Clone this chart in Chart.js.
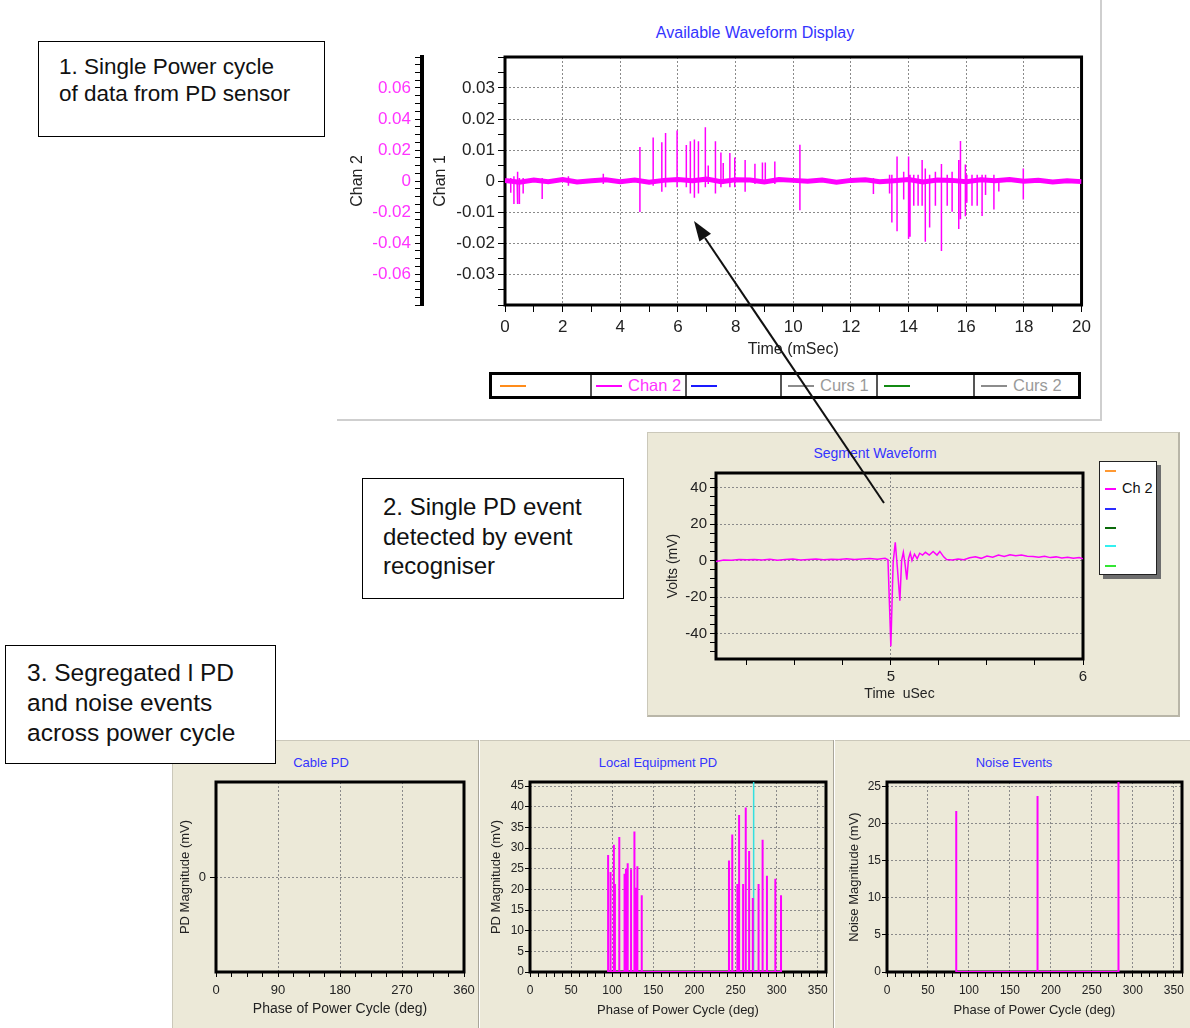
<!DOCTYPE html>
<html>
<head>
<meta charset="utf-8">
<script src="https://cdn.jsdelivr.net/npm/chart.js"></script>
<style>
  body { margin: 0; background: #fff; font-family: "Liberation Sans", Arial, sans-serif; }
  #page { position: relative; width: 1190px; height: 1028px; overflow: hidden; }
  .abs { position: absolute; }
  .ttl { position: absolute; color: #3434ff; white-space: nowrap; transform: translateX(-50%); }
  .panel { position: absolute; background: #ece9d8; box-sizing: border-box; }
  .note { position: absolute; background: #fff; border: 1px solid #000; color: #111; box-sizing: border-box; white-space: nowrap; }
  #cycleLegend { left: 489px; top: 372px; width: 592px; height: 27px; border: 3px solid #000; box-sizing: border-box; display: flex; background: #fff; }
  #cycleLegend .cell { height: 100%; display: flex; align-items: center; box-sizing: border-box; border-left: 2px solid #555; font-size: 16.5px; white-space: nowrap; overflow: hidden; }
  #cycleLegend .cell:first-child { border-left: none; }
  #cycleLegend .sw { display: inline-block; flex: none; width: 26px; height: 2px; margin: 0 6px 0 6px; }
  #segLegend { left: 1099px; top: 461px; width: 58px; height: 114px; background: #fff; border: 1px solid #222; box-sizing: border-box; box-shadow: 4px 4px 0 #6e6e6e; }
  #segLegend .sw { position: absolute; left: 5px; width: 11px; height: 2px; }
</style>
</head>
<body>
<div id="page">
  <!-- 1. power cycle panel -->
  <div class="abs" style="left:337px;top:-2px;width:763px;height:421px;border-right:2px solid #cfcfcf;border-bottom:2px solid #cfcfcf;"></div>
  <div class="ttl" style="left:755px;top:24px;font-size:16px;line-height:18px;">Available Waveform Display</div>
  <canvas id="cycleChart" class="abs" width="756" height="323" style="left:340px;top:42px;"></canvas>
  <div id="cycleLegend" class="abs">
    <div class="cell" style="width:98px"><span class="sw" style="background:#ff8c1a;margin-left:8px"></span></div>
    <div class="cell" style="width:95px"><span class="sw" style="background:#ff00ff;margin-left:4px"></span><span style="color:#ff33ff">Chan 2</span></div>
    <div class="cell" style="width:95px"><span class="sw" style="background:#1a1aff;margin-left:4px"></span></div>
    <div class="cell" style="width:96px"><span class="sw" style="background:#8c8c8c"></span><span style="color:#9a9a9a">Curs 1</span></div>
    <div class="cell" style="width:97px"><span class="sw" style="background:#138a13"></span></div>
    <div class="cell" style="width:105px"><span class="sw" style="background:#8c8c8c"></span><span style="color:#9a9a9a">Curs 2</span></div>
  </div>

  <!-- 2. segment panel -->
  <div class="panel" style="left:647px;top:432px;width:533px;height:285px;border:1px solid #cbc8ba;border-right:2px solid #b9b6a8;border-bottom:2px solid #b9b6a8;"></div>
  <div class="ttl" style="left:875px;top:445px;font-size:14px;line-height:16px;">Segment Waveform</div>
  <canvas id="segmentChart" class="abs" width="441" height="252" style="left:655px;top:458px;"></canvas>
  <div id="segLegend" class="abs">
    <span class="sw" style="top:8px;background:#ff9933"></span>
    <span class="sw" style="top:26px;background:#ff00ff"></span>
    <span class="abs" style="left:22px;top:18px;font-size:14.5px;color:#111;">Ch 2</span>
    <span class="sw" style="top:46px;background:#2b2bff"></span>
    <span class="sw" style="top:65px;background:#0a6a0a"></span>
    <span class="sw" style="top:83px;background:#33f0f0"></span>
    <span class="sw" style="top:103px;background:#33e633"></span>
  </div>

  <!-- 3. segregated events panel -->
  <div class="panel" style="left:172px;top:740px;width:1018px;height:288px;border-left:1px solid #cbc8ba;border-top:1px solid #cbc8ba;"></div>
  <div class="abs" style="left:478px;top:740px;width:1px;height:288px;background:#a9a69a;border-right:1px solid #fff;"></div>
  <div class="abs" style="left:833px;top:740px;width:1px;height:288px;background:#a9a69a;border-right:1px solid #fff;"></div>
  <div class="ttl" style="left:321px;top:755px;font-size:13px;line-height:15px;">Cable PD</div>
  <div class="ttl" style="left:658px;top:755px;font-size:13px;line-height:15px;">Local Equipment PD</div>
  <div class="ttl" style="left:1014px;top:755px;font-size:13px;line-height:15px;">Noise Events</div>
  <canvas id="cableChart" class="abs" width="306" height="255" style="left:176px;top:767px;"></canvas>
  <canvas id="localChart" class="abs" width="350" height="255" style="left:488px;top:767px;"></canvas>
  <canvas id="noiseChart" class="abs" width="345" height="255" style="left:845px;top:767px;"></canvas>

  <!-- callout boxes -->
  <div class="note" style="left:38px;top:41px;width:287px;height:96px;padding:11px 0 0 20px;font-size:22.5px;line-height:27px;">1. Single Power cycle<br>of data from PD sensor</div>
  <div class="note" style="left:362px;top:478px;width:262px;height:121px;padding:13px 0 0 20px;font-size:24px;line-height:29.5px;">2. Single PD event<br>detected by event<br>recogniser</div>
  <div class="note" style="left:5px;top:645px;width:271px;height:119px;padding:12px 0 0 21px;font-size:24.5px;line-height:30px;">3. Segregated l PD<br>and noise events<br>across power cycle</div>

  <svg class="abs" width="1190" height="1028" style="left:0;top:0;pointer-events:none;">
    <line x1="884" y1="503" x2="705" y2="238" stroke="#111" stroke-width="2"/>
    <polygon points="694,221 699.4,241.5 711,233.7" fill="#111"/>
  </svg>
</div>

<script>
'use strict';

// Power cycle waveform, read on the Chan 1 scale (volts).
var cycleBaseTimes = [0, 0.5, 1, 1.5, 2, 2.5, 3, 3.5, 4, 4.5, 5, 5.5, 6, 6.5, 7, 7.5, 8, 8.5, 9, 9.5,
                      10, 10.5, 11, 11.5, 12, 12.5, 13, 13.5, 14, 14.5, 15, 15.5, 16, 16.5, 17, 17.5, 18, 18.5, 19, 19.5, 20];
var cycleBaseVolts = [0.0002, -0.0004, 0.0003, -0.0002, 0.0005, -0.0003, 0.0001, 0.0004, -0.0002, 0.0003,
                      -0.0004, 0.0002, 0.0005, 0.0001, 0.0006, -0.0002, 0.0004, 0.0003, -0.0003, 0.0005,
                      0.0002, -0.0001, 0.0003, -0.0004, 0.0002, 0.0004, -0.0002, 0.0001, 0.0005, -0.0003,
                      0.0003, 0.0002, -0.0002, 0.0004, 0.0001, 0.0005, -0.0001, 0.0002, -0.0003, 0.0001, -0.0002];
var spikeTimes = [0.2, 0.31, 0.42, 0.45, 0.5, 0.63, 1.29, 2.2, 3.41, 4.68, 5.14, 5.44, 5.57, 5.97, 6.29, 6.43,
                  6.57, 6.71, 6.95, 7.05, 7.3, 7.49, 7.57, 7.8, 7.97, 8.33, 8.67, 8.93, 9.03, 9.36, 10.23, 12.78,
                  13.34, 13.42, 13.6, 13.83, 14.0, 14.05, 14.18, 14.33, 14.47, 14.58, 14.73, 14.93, 15.14, 15.34,
                  15.51, 15.74, 15.8, 15.97, 16.02, 16.2, 16.38, 16.55, 16.67, 16.96, 17.13, 17.98];
var spikeHighs = [0.001, 0.0015, 0.003, 0.001, 0.001, 0.001, 0.001, 0.0015, 0.0023, 0.011, 0.014, 0.0125, 0.0155,
                  0.0163, 0.0116, 0.0128, 0.0134, 0.0128, 0.0173, 0.005, 0.0128, 0.0092, 0.0058, 0.009, 0.0076,
                  0.0068, 0.0056, 0.006, 0.006, 0.0063, 0.0117, 0.001, 0.002, 0.002, 0.0079, 0.003, 0.0079, 0.002,
                  0.002, 0.002, 0.0068, 0.004, 0.002, 0.003, 0.0055, 0.002, 0.003, 0.0068, 0.0129, 0.0053, 0.002,
                  0.002, 0.002, 0.002, 0.002, 0.002, 0.001, 0.004];
var spikeLows = [-0.0038, -0.0074, -0.002, -0.0074, -0.0074, -0.004, -0.0058, -0.0015, -0.001, -0.010, -0.0015,
                 -0.0035, -0.002, -0.002, -0.002, -0.004, -0.0054, -0.004, -0.002, -0.001, -0.004, -0.002, -0.001,
                 -0.002, -0.002, -0.0035, -0.001, -0.001, -0.001, -0.001, -0.0094, -0.0042, -0.004, -0.0134,
                 -0.0162, -0.006, -0.0186, -0.018, -0.008, -0.008, -0.008, -0.0196, -0.015, -0.008, -0.0226,
                 -0.008, -0.0099, -0.0155, -0.0123, -0.0114, -0.007, -0.008, -0.008, -0.0113, -0.0045, -0.0092,
                 -0.0034, -0.006];
var chan1Labels = [-0.03, -0.02, -0.01, 0, 0.01, 0.02, 0.03];
var chan2Labels = [-0.06, -0.04, -0.02, 0, 0.02, 0.04, 0.06];
var cycleTimeLabels = [0, 2, 4, 6, 8, 10, 12, 14, 16, 18, 20];

// Single PD event (uSec, mV).
var segTimes = [4.09, 4.13, 4.17, 4.21, 4.25, 4.29, 4.33, 4.37, 4.41, 4.45, 4.49, 4.53, 4.57, 4.61, 4.65, 4.69,
                4.73, 4.77, 4.81, 4.85, 4.89, 4.93, 4.97,
                4.985, 5.0, 5.012, 5.023, 5.034, 5.047, 5.056, 5.065, 5.074, 5.083, 5.092, 5.101, 5.11, 5.123,
                5.137, 5.15, 5.165, 5.18, 5.2, 5.22, 5.24, 5.255, 5.275, 5.29,
                5.32, 5.35, 5.38, 5.41, 5.44, 5.47, 5.5, 5.53, 5.56, 5.59, 5.62, 5.65, 5.68, 5.71, 5.74, 5.77,
                5.8, 5.83, 5.86, 5.89, 5.92, 5.95, 5.98, 6.0];
var segMillivolts = [-0.5, 0.3, 0.2, 0.5, 0.4, 0.6, 0.3, 0.7, 0.2, 0.5, 0.8, 0.3, 0.6, 0.9, 0.4, 0.7,
                     0.5, 1.0, 0.6, 0.9, 1.1, 0.7, 1.2,
                     0.4, -47, -1, 10, -4, -22, 0, 4.5, -2, -10.5, 1, 4.2, 0, 3.5,
                     1, 4, 3, 4.5, 3, 5, 3, 5, 2, 0.5,
                     0.3, 0.8, 0.4, 1.5, 2, 1.2, 2.5, 1.8, 3, 2.2, 3.2, 2.6, 3, 2.4, 2.2, 1.8,
                     2.3, 1.6, 2, 1.4, 1.8, 1.2, 1.6, 1.0];
var segVoltLabels = [-40, -20, 0, 20, 40];
var segTimeLabels = [5, 6];

// Segregated events across the power cycle (deg, mV).
var localPhases = [95, 98, 102, 103.3, 108.6, 115, 116.7, 118.8, 122.9, 127, 128.6, 130.6, 135.9,
                   242, 246, 252.2, 254.3, 259.2, 262.4, 266.5, 271, 278, 282.9, 288.2, 298.4, 305.3];
var localMagnitudes = [28.3, 24.2, 30.8, 21.3, 32.7, 23.8, 25, 26.3, 24.9, 34, 20.4, 25.6, 18.6,
                       27, 33.3, 21.3, 38, 21.3, 39.8, 29.3, 17.9, 21.3, 32, 23.3, 22.6, 18.6];
var localCursorPhase = 272;
var localMax = 46;
var noisePhases = [84.5, 183.7, 282.5];
var noiseMagnitudes = [21.7, 23.7, 25.6];
var noiseMax = 25.6;
var cablePhaseLabels = [0, 90, 180, 270, 360];
var phaseLabels = [0, 50, 100, 150, 200, 250, 300, 350];
var pdLabels = [0, 5, 10, 15, 20, 25, 30, 35, 40, 45];
var noiseLabels = [0, 5, 10, 15, 20, 25];

var MAGENTA = '#ff00ff';

Chart.defaults.font.family = '"Liberation Sans", Arial, sans-serif';
Chart.defaults.color = '#222';

// Black box round the plot area, drawn under the traces.
var framePlugin = {
  id: 'frame',
  beforeDatasetsDraw: function(chart) {
    var a = chart.chartArea;
    var ctx = chart.ctx;
    ctx.save();
    ctx.strokeStyle = '#000';
    ctx.lineWidth = 3;
    ctx.strokeRect(a.left, a.top, a.right - a.left, a.bottom - a.top);
    ctx.restore();
  }
};

function steps(from, to, step) {
  var out = [];
  for (var v = from; v <= to + step / 1000; v += step) {
    out.push(Math.round(v * 100000) / 100000);
  }
  return out;
}

function hasValue(list, v) {
  return list.some(function(x) { return Math.abs(x - v) < 1e-9; });
}

function fmt2(v) { return Math.abs(v) < 1e-9 ? '0' : v.toFixed(2); }
function fmtInt(v) { return String(Math.round(v)); }

function pairs(xs, ys) {
  return xs.map(function(x, i) { return {x: x, y: ys[i]}; });
}

// Vertical strokes from the zero line, the way the recorder draws events.
function stems(xs, highs, lows) {
  var pts = [];
  xs.forEach(function(x, i) {
    pts.push({x: x, y: 0}, {x: x, y: highs[i]});
    if (lows) pts.push({x: x, y: lows[i]});
    pts.push({x: x, y: 0});
  });
  return pts;
}

function lineSet(points, color, width) {
  return {data: points, showLine: true, borderColor: color, borderWidth: width,
          pointRadius: 0, fill: false, tension: 0};
}

function axis(cfg) {
  var horizontal = cfg.position === 'bottom';
  return {
    type: 'linear',
    position: cfg.position,
    weight: cfg.weight || 0,
    min: cfg.min,
    max: cfg.max,
    afterBuildTicks: function(scale) {
      scale.ticks = cfg.ticks.map(function(v) { return {value: v}; });
    },
    afterFit: function(scale) {
      if (horizontal) scale.height = cfg.size; else scale.width = cfg.size;
    },
    ticks: {
      autoSkip: false,
      maxRotation: 0,
      padding: cfg.pad,
      color: cfg.labelColor || '#222',
      font: {size: cfg.fontSize},
      callback: function(v) { return hasValue(cfg.labels, v) ? cfg.format(v) : ''; }
    },
    grid: {
      drawOnChartArea: cfg.gridOnArea !== false,
      color: function(c) {
        return c.tick && hasValue(cfg.grid || [], c.tick.value) ? '#8a8a8a' : 'rgba(0,0,0,0)';
      },
      tickColor: '#000',
      tickLength: cfg.tickLength,
      lineWidth: 1
    },
    border: cfg.border || {display: false, dash: [2, 2]},
    title: {
      display: true,
      text: cfg.title,
      color: '#222',
      font: {size: cfg.titleSize},
      padding: cfg.titlePad
    }
  };
}

function makeChart(id, datasets, scales, padding) {
  return new Chart(document.getElementById(id), {
    type: 'scatter',
    data: {datasets: datasets},
    options: {
      responsive: false,
      animation: false,
      layout: {padding: padding},
      plugins: {legend: {display: false}, tooltip: {enabled: false}},
      scales: scales
    },
    plugins: [framePlugin]
  });
}

// 1. Available waveform display
makeChart('cycleChart', [
  lineSet(pairs(cycleBaseTimes, cycleBaseVolts), MAGENTA, 5),
  lineSet(stems(spikeTimes, spikeHighs, spikeLows), MAGENTA, 1.5)
], {
  x: axis({position: 'bottom', min: 0, max: 20, ticks: steps(0, 20, 1), labels: cycleTimeLabels,
           grid: cycleTimeLabels, size: 60, fontSize: 17, pad: 5, tickLength: 7, format: fmtInt,
           title: 'Time (mSec)', titleSize: 16, titlePad: {top: 0, bottom: 6}}),
  y: axis({position: 'left', min: -0.04, max: 0.04, ticks: steps(-0.04, 0.04, 0.005), labels: chan1Labels,
           grid: chan1Labels, size: 83, fontSize: 17, pad: 3, tickLength: 7, format: fmt2,
           title: 'Chan 1', titleSize: 16, titlePad: {top: 9, bottom: 0}}),
  y2: axis({position: 'left', weight: 1, min: -0.08, max: 0.08, ticks: steps(-0.08, 0.08, 0.005),
            labels: chan2Labels, gridOnArea: false, labelColor: '#ff33ff', size: 82, fontSize: 17, pad: 4,
            tickLength: 7, format: fmt2, border: {display: true, width: 4, color: '#000'},
            title: 'Chan 2', titleSize: 16, titlePad: {top: 8, bottom: 0}})
}, {left: 0, right: 14, top: 15, bottom: 0});

// 2. Segment waveform
makeChart('segmentChart', [
  lineSet(pairs(segTimes, segMillivolts), MAGENTA, 1.5)
], {
  x: axis({position: 'bottom', min: 4.09, max: 6, ticks: steps(4.25, 6, 0.25), labels: segTimeLabels,
           grid: segTimeLabels, size: 51, fontSize: 15, pad: 3, tickLength: 6, format: fmtInt,
           title: 'Time  uSec', titleSize: 14, titlePad: {top: 0, bottom: 7}}),
  y: axis({position: 'left', min: -54, max: 48, ticks: steps(-50, 45, 5), labels: segVoltLabels,
           grid: segVoltLabels, size: 61, fontSize: 15, pad: 3, tickLength: 6, format: fmtInt,
           title: 'Volts (mV)', titleSize: 14, titlePad: {top: 10, bottom: 0}})
}, {left: 0, right: 13, top: 15, bottom: 0});

// 3. Cable PD (no events)
makeChart('cableChart', [], {
  x: axis({position: 'bottom', min: 0, max: 360, ticks: steps(0, 360, 22.5), labels: cablePhaseLabels,
           grid: cablePhaseLabels, size: 50, fontSize: 13, pad: 6, tickLength: 5, format: fmtInt,
           title: 'Phase of Power Cycle (deg)', titleSize: 14, titlePad: {top: 0, bottom: 4}}),
  y: axis({position: 'left', min: -1, max: 1, ticks: [0], labels: [0], grid: [0], size: 40, fontSize: 13,
           pad: 4, tickLength: 6, format: fmtInt,
           title: 'PD Magnitude (mV)', titleSize: 13, titlePad: {top: 2, bottom: 0}})
}, {left: 0, right: 18, top: 15, bottom: 0});

// Local equipment PD
makeChart('localChart', [
  lineSet(stems(localPhases, localMagnitudes), MAGENTA, 2),
  lineSet([{x: localCursorPhase, y: 0}, {x: localCursorPhase, y: localMax}], '#33e0e0', 1.5)
], {
  x: axis({position: 'bottom', min: 0, max: 360, ticks: steps(0, 360, 10), labels: phaseLabels,
           grid: phaseLabels, size: 50, fontSize: 12, pad: 6, tickLength: 5, format: fmtInt,
           title: 'Phase of Power Cycle (deg)', titleSize: 13, titlePad: {top: 0, bottom: 4}}),
  y: axis({position: 'left', min: 0, max: localMax, ticks: steps(0, 45, 5), labels: pdLabels, grid: pdLabels,
           size: 42, fontSize: 12, pad: 1, tickLength: 5, format: fmtInt,
           title: 'PD Magnitude (mV)', titleSize: 13, titlePad: {top: 1, bottom: 0}})
}, {left: 0, right: 12, top: 15, bottom: 0});

// Noise events
makeChart('noiseChart', [
  lineSet(stems(noisePhases, noiseMagnitudes), MAGENTA, 2)
], {
  x: axis({position: 'bottom', min: 0, max: 360, ticks: steps(0, 360, 10), labels: phaseLabels,
           grid: phaseLabels, size: 50, fontSize: 12, pad: 6, tickLength: 5, format: fmtInt,
           title: 'Phase of Power Cycle (deg)', titleSize: 13, titlePad: {top: 0, bottom: 4}}),
  y: axis({position: 'left', min: 0, max: noiseMax, ticks: steps(0, 25, 5), labels: noiseLabels,
           grid: noiseLabels, size: 42, fontSize: 12, pad: 1, tickLength: 5, format: fmtInt,
           title: 'Noise Magnitude (mV)', titleSize: 13, titlePad: {top: 2, bottom: 0}})
}, {left: 0, right: 8, top: 15, bottom: 0});
</script>
</body>
</html>
